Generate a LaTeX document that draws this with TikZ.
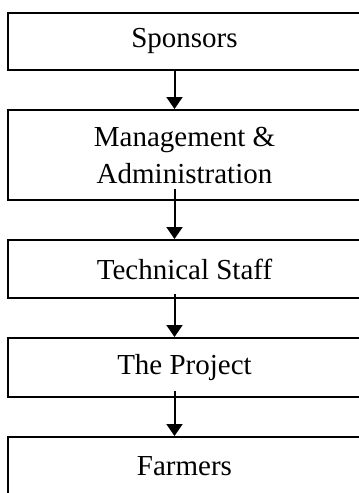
\documentclass[tikz,border=0pt]{standalone}
\usepackage{fontspec}
\setmainfont{Liberation Serif}
\usetikzlibrary{arrows.meta}
\begin{document}
\begin{tikzpicture}[x=1pt, y=-1pt, line join=miter, >={Triangle[width=16pt,length=12pt]},
	box/.style={draw, line width=2pt, minimum width=353pt, inner sep=0pt, align=center, font=\fontsize{29}{37}\selectfont},
	arr/.style={->, line width=2pt}]
	\def \dx{-10}
	\useasboundingbox (0,0) rectangle (359,493);
	\clip (0,0) rectangle (359,493);
	\node[box, minimum height=57.5pt] (spons) at (184.5,41.25) {Sponsors};
	\node[box, minimum height=90pt] (manag) at (184.5,155) {Management \&\\Administration};
	\node[box, minimum height=58pt] (tech) at (184.5,269) {Technical Staff};
	\node[box, minimum height=58.5pt] (proj) at (184.5,367.25) {The Project};
	\node[box, minimum height=58pt] (farm) at (184.5,466) {Farmers};
	\draw[arr] ([xshift=\dx pt, yshift=2pt]spons.south) -- ([xshift=\dx pt]manag.north);
	\draw[arr] ([xshift=\dx pt, yshift=12pt]manag.south) -- ([xshift=\dx pt]tech.north);
	\draw[arr] ([xshift=\dx pt, yshift=5pt]tech.south) -- ([xshift=\dx pt]proj.north);
	\draw[arr] ([xshift=\dx pt, yshift=6.5pt]proj.south) -- ([xshift=\dx pt]farm.north);
\end{tikzpicture}
\end{document}
